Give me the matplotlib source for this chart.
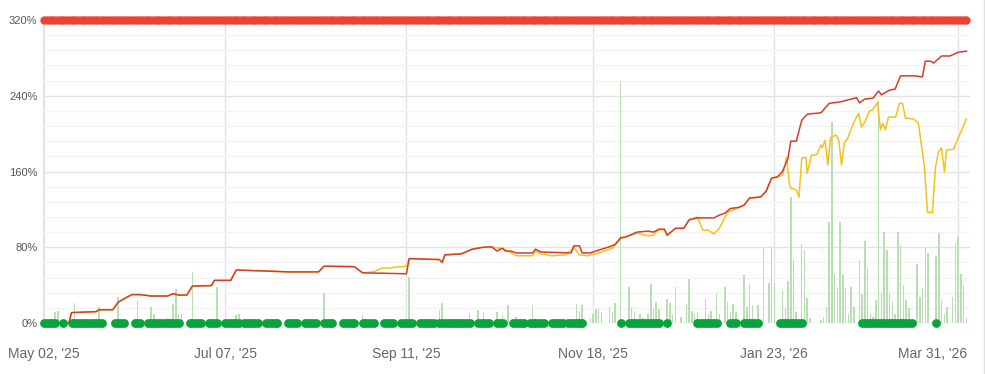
import numpy as np
import pandas as pd
import matplotlib
matplotlib.use('Agg')
import matplotlib.pyplot as plt
import matplotlib.dates as mdates
from matplotlib.lines import Line2D
from matplotlib.transforms import ScaledTranslation
from matplotlib.ticker import FuncFormatter, MultipleLocator

plt.rcParams['font.family'] = ['Liberation Sans', 'DejaVu Sans']

# day offsets are counted from this date
START = '2025-05-02'
TICK_DATES = ['2025-05-02', '2025-07-07', '2025-09-11', '2025-11-18', '2026-01-23', '2026-03-31']

# red line (day, %)
red_day = [0, 9, 10, 19, 20, 25, 27, 30, 32, 35, 39, 45, 47, 49, 52, 54, 61, 62, 68, 70,
           89, 100, 102, 113, 116, 132, 133, 144, 145, 146, 152, 156, 160, 163, 165, 167,
           168, 170, 172, 178, 179, 181, 192, 193, 195, 196, 199, 202, 206, 208, 210, 212,
           216, 220, 222, 224, 226, 227, 230, 233, 235, 238, 244, 246, 248, 250, 253, 255,
           257, 261, 263, 265, 267, 269, 271, 272, 274, 276, 278, 283, 286, 290, 296, 297,
           299, 302, 304, 305, 308, 310, 312, 317, 320, 321, 323, 324, 327, 330, 333, 336]
red_pct = [0, 0, 11, 12, 14, 14, 22, 27, 30, 30, 28.5, 28.5, 31, 29.5, 29.5, 39, 39.5, 45, 45, 56,
           54, 54, 60, 59.5, 53, 52, 68, 67, 64, 72, 73, 78, 80, 80.5, 76, 79,
           76, 76, 74, 74, 78, 75, 74, 81.5, 81.5, 74, 74, 77, 80.5, 83, 90, 91,
           96, 97, 96, 99, 99, 93, 100, 100, 109, 111, 111, 114, 116, 121, 122, 124.5,
           132, 133, 139, 153, 154, 160, 174, 192, 192, 214, 220.5, 222, 232, 233.5, 238, 232.5,
           236.5, 237.5, 245, 241, 246, 247, 261, 261, 260, 276.5, 276.5, 274.5, 282, 282, 286, 287]

# yellow line (day, %)
yellow_day = [0, 9, 10, 19, 20, 25, 27, 30, 32, 35, 39, 45, 47, 49, 52, 54, 61, 62, 68, 70,
              89, 100, 102, 113, 116, 120, 123, 126, 128, 132, 133, 144, 145, 146, 152, 156,
              160, 163, 166, 167, 172, 178, 179, 181, 185, 190, 192, 193, 195, 198, 202, 207,
              210, 216, 220, 222, 224, 226, 227, 230, 233, 235, 238, 240, 242, 244, 246, 249,
              253, 255, 257, 261, 263, 265, 269, 270.5, 271.5, 272, 274, 275, 276, 277.5, 278,
              279.5, 281.5, 283, 283.5, 284.5, 285.5, 286.5, 288.5, 289.5, 290.5, 291.5, 292.7,
              295, 296.7, 297.8, 299.3, 300.7, 301.8, 303.6, 304.7, 305.5, 306.5, 307.6, 310.2,
              311.6, 312.7, 313.8, 316.7, 318.5, 320.7, 321.8, 323.6, 324.7, 325.8, 326.9, 328,
              328.7, 331.3, 336]
yellow_pct = [0, 0, 11, 12, 14, 14, 22, 27, 30, 30, 28.5, 28.5, 31, 29.5, 29.5, 39, 39.5, 45, 45, 56,
              54, 54, 60, 59.5, 53, 54, 58, 58, 59, 60, 68, 67, 64, 72, 73, 78,
              80, 80, 79, 79, 71, 71, 76, 73, 71, 72, 77, 80, 72, 71, 74, 79,
              89, 95, 92, 93, 99, 98, 92, 100, 100, 109, 112, 98, 98, 94, 100, 117,
              122, 124.5, 132, 133, 139, 153, 156, 175, 147, 142.5, 140.5, 133, 174, 175, 158,
              177, 178, 188, 185, 193, 167, 196, 198.5, 193, 167, 190, 195,
              212, 221.5, 207, 214, 224, 225, 233, 204, 211, 204, 217.5, 217.5,
              232, 232, 216.5, 215.5, 211, 165, 117, 117, 164, 180.5, 185, 159.5,
              182.5, 183.5, 215.5]

# light green daily bars (day, %)
bar_day = [4, 5, 11, 20, 27, 34, 39, 40, 45, 47, 48, 49, 50, 54, 63, 70, 71, 102, 116, 133,
           144, 145, 155, 158, 160, 165, 167, 169, 172, 178, 194, 195, 196, 199, 200, 201,
           202, 203, 206, 207, 208, 210, 213, 214, 215, 217, 218, 220, 221, 222, 223, 224,
           227, 228, 229, 230, 232, 233, 234, 235, 236, 237, 238, 241, 242, 243, 245, 246,
           248, 249, 250, 251, 252, 255, 256, 257, 258, 260, 262, 264, 265, 266, 269, 270,
           271, 272, 273, 274, 276, 277, 278, 279, 283, 284, 285, 286, 287, 288, 289, 290,
           291, 292, 293, 294, 295, 297, 298, 299, 300, 301, 302, 303, 304, 305, 306, 307,
           308, 309, 310, 311, 312, 313, 314, 315, 318, 319, 320, 321, 322, 325, 326, 327,
           328, 329, 331, 332, 333, 334, 335, 336]
bar_pct = [12, 13, 21, 17, 27.5, 23, 17, 9.5, 5.5, 20, 36, 9, 9, 54, 38, 8, 9.5, 32, 8, 48.5,
           14, 21, 11, 14, 11.5, 12, 8, 18.5, 6, 18.5, 20.5, 12.5, 18.5, 5, 10, 14.5,
           15.5, 12, 17, 12, 21, 256, 37.5, 15.5, 13, 10, 6, 10, 41, 15.5, 22, 14.5,
           25, 21, 10, 38, 6, 1.5, 20, 46, 13, 10, 12, 25, 10, 13, 31, 10,
           38, 22, 12, 20, 12, 51, 17, 41, 19, 19, 79, 42, 79, 42, 35, 15.5,
           44, 133, 66.5, 12, 83.5, 77, 26.5, 5, 3, 6, 17, 107, 212, 51.5, 38, 107,
           51, 37, 9, 38, 17, 66.5, 30.5, 87, 58, 10, 6, 24, 235.5, 32, 96, 77,
           32, 22, 10, 96, 81, 40, 24, 15.5, 62, 27.5, 37, 79, 74, 71, 95, 25,
           10, 17, 27.5, 84.5, 91, 51.5, 40, 5]

# green markers at 0%: runs of consecutive days (first, last)
green_runs = [(0, 4), (7, 7), (10, 21), (26, 29), (33, 35), (38, 49), (53, 57), (60, 63),
              (66, 71), (73, 78), (81, 85), (89, 92), (95, 99), (102, 105), (109, 113),
              (116, 120), (124, 127), (130, 134), (137, 142), (144, 155), (158, 162),
              (165, 167), (171, 175), (177, 182), (185, 189), (191, 196), (210, 210),
              (213, 224), (227, 227), (238, 245), (250, 252), (255, 260), (268, 276),
              (298, 316), (325, 325)]

# red markers at 320%: every day of the range
red_dot_first, red_dot_last = 0, 336
TOP_PCT = 320

t0 = mdates.date2num(pd.Timestamp(START))


def xs(days):
  return t0 + np.asarray(days, dtype=float)


green_days = [d for a, b in green_runs for d in range(a, b + 1)]
red_dot_days = list(range(red_dot_first, red_dot_last + 1))

fig = plt.figure(figsize=(9.85, 3.74), dpi=100)
ax = fig.add_axes([43 / 985, 51 / 374, 927 / 985, 303 / 374])

ax.bar(xs(bar_day), bar_pct, width=0.55, color='#b9deb3', linewidth=0, zorder=2)
ax.plot(xs(yellow_day), yellow_pct, color='#f5c21b', lw=1.1, zorder=3)
ax.plot(xs(red_day), red_pct, color='#d63d2b', lw=1.1, zorder=4)
ax.scatter(xs(green_days), np.zeros(len(green_days)), s=40, color='#08a33b',
           linewidths=0, zorder=5, clip_on=False)
ax.scatter(xs(red_dot_days), np.full(len(red_dot_days), TOP_PCT), s=36, color='#ea4335',
           linewidths=0, zorder=6, clip_on=False)

ax.set_xlim(t0 - 0.4, t0 + 337.3)
ax.set_ylim(0, TOP_PCT)

ax.yaxis.set_major_locator(MultipleLocator(80))
ax.yaxis.set_minor_locator(MultipleLocator(16))
ax.yaxis.set_major_formatter(FuncFormatter(lambda v, p: '{:.0f}%'.format(v)))
ax.set_xticks(mdates.date2num(pd.to_datetime(TICK_DATES)))
ax.xaxis.set_major_formatter(mdates.DateFormatter("%b %d, '%y"))

ax.grid(axis='y', which='major', color='#e3e3e3', lw=1, zorder=0)
ax.grid(axis='y', which='minor', color='#f3f3f3', lw=1, zorder=0)
ax.grid(axis='x', which='major', color='#e3e3e3', lw=1, zorder=0)
ax.set_axisbelow(True)

ax.tick_params(axis='both', which='both', length=0)
ax.tick_params(axis='y', labelsize=8, pad=4, colors='#555555')
ax.tick_params(axis='x', labelsize=10, pad=17, colors='#666666')

# last date label is pulled inside the chart, right-aligned
last = ax.get_xticklabels()[-1]
last.set_horizontalalignment('right')
last.set_transform(last.get_transform() + ScaledTranslation(0.09, 0, fig.dpi_scale_trans))

for side in ('top', 'right', 'bottom'):
  ax.spines[side].set_visible(False)
ax.spines['left'].set_color('#e3e3e3')

# container border on the right
fig.add_artist(Line2D([983.5 / 985, 983.5 / 985], [0, 1], color='#e0e0e0', lw=1))

fig.savefig('out.png', dpi=100)
